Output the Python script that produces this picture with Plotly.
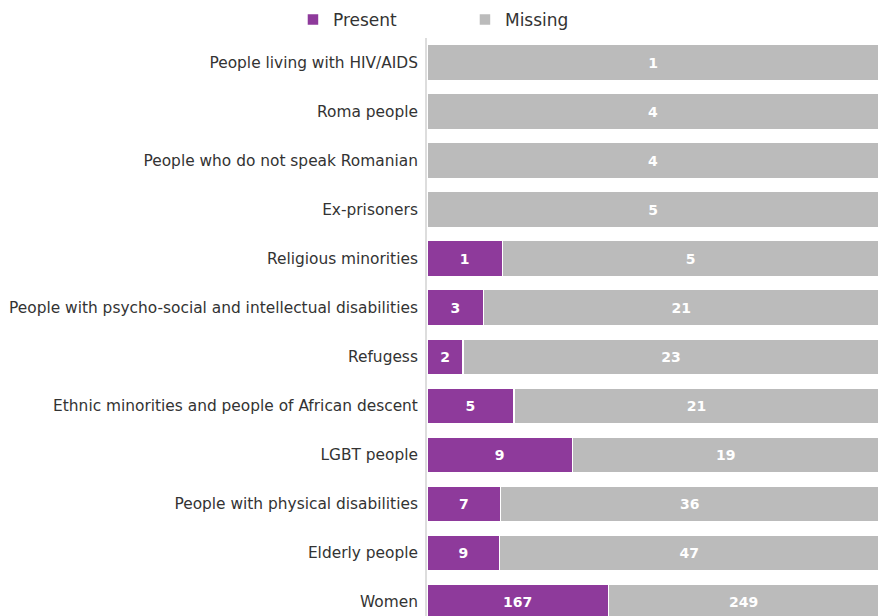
import plotly.graph_objects as go

categories = [
    "People living with HIV/AIDS",
    "Roma people",
    "People who do not speak Romanian",
    "Ex-prisoners",
    "Religious minorities",
    "People with psycho-social and intellectual disabilities",
    "Refugess",
    "Ethnic minorities and people of African descent",
    "LGBT people",
    "People with physical disabilities",
    "Elderly people",
    "Women",
]
present = [0, 0, 0, 0, 1, 3, 2, 5, 9, 7, 9, 167]
missing = [1, 4, 4, 5, 5, 21, 23, 21, 19, 36, 47, 249]

PURPLE = "#8E3A9B"
GREY = "#BBBBBB"
FONT = "DejaVu Sans"

def labels(vals):
    return [str(v) if v else "" for v in vals]

fig = go.Figure()
for name, vals, col in [("Present", present, PURPLE), ("Missing", missing, GREY)]:
    fig.add_trace(go.Bar(
        name=name, y=categories, x=vals, orientation="h",
        marker=dict(color=col, line=dict(color="white", width=1.5)),
        text=labels(vals), textposition="inside", insidetextanchor="middle",
        textangle=0, constraintext="none",
        textfont=dict(color="white", size=14, family=FONT, weight="bold"),
        hoverinfo="x+y+name",
    ))

fig.update_layout(
    width=879, height=616,
    barmode="stack", barnorm="fraction", bargap=0.265,
    margin=dict(l=427, r=0, t=38, b=0),
    paper_bgcolor="white", plot_bgcolor="white",
    font=dict(family=FONT, color="#333333", size=15),
    legend=dict(orientation="h", xref="container", yref="container",
                x=0.3333, xanchor="left", y=0.9968, yanchor="top",
                traceorder="normal",
                entrywidth=127, entrywidthmode="pixels",
                font=dict(size=17, color="#333333")),
    xaxis=dict(visible=False, range=[0, 1], fixedrange=True),
    yaxis=dict(categoryorder="array", categoryarray=categories,
               range=[11.286, -0.5], showline=True, linecolor="#dddddd",
               linewidth=2, showgrid=False, ticks="", ticklabelstandoff=4,
               tickfont=dict(size=15.4, color="#333333")),
)

fig.write_html(
    "out.html",
    config={"displayModeBar": False},
    post_script="document.body.style.margin='0';document.body.style.overflow='hidden';",
)
